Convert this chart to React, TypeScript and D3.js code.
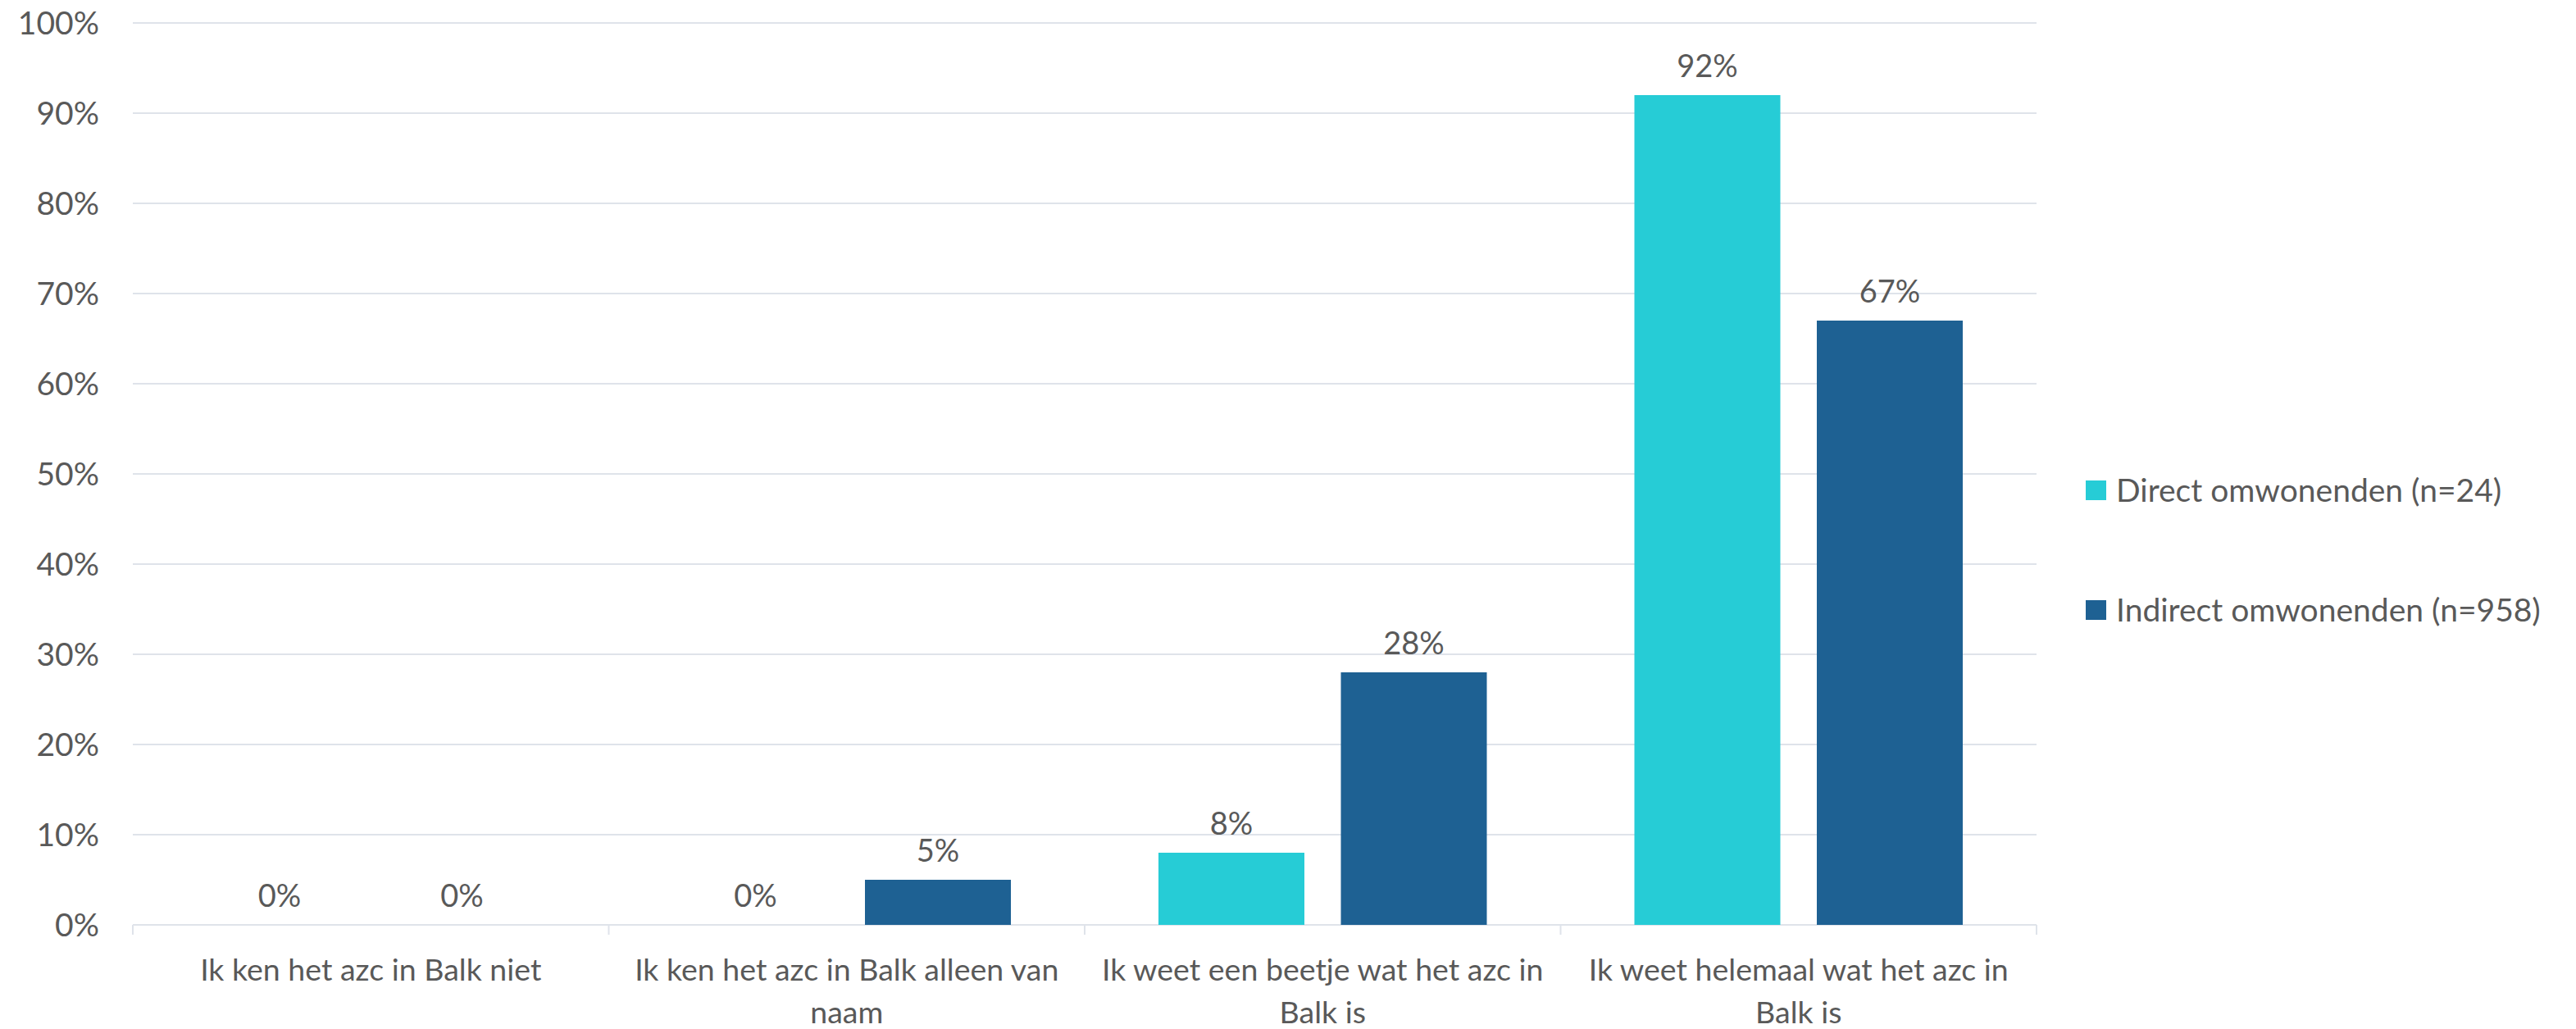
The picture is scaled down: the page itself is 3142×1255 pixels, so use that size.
import React from "react";
import * as d3 from "d3";

const categories = [
  "Ik ken het azc in Balk niet",
  "Ik ken het azc in Balk alleen van naam",
  "Ik weet een beetje wat het azc in Balk is",
  "Ik weet helemaal wat het azc in Balk is",
];
const categoryLines = [
  ["Ik ken het azc in Balk niet"],
  ["Ik ken het azc in Balk alleen van", "naam"],
  ["Ik weet een beetje wat het azc in", "Balk is"],
  ["Ik weet helemaal wat het azc in", "Balk is"],
];
const seriesNames = ["Direct omwonenden (n=24)", "Indirect omwonenden (n=958)"];
const seriesColors = ["#26CCD6", "#1E6193"];
const directValues = [0, 0, 8, 92];
const indirectValues = [0, 5, 28, 67];
const yTicks = [0, 10, 20, 30, 40, 50, 60, 70, 80, 90, 100];

const W = 3142;
const H = 1255;
const left = 162;
const right = 2484;
const top = 28;
const bottom = 1128;
const FONT = "Lato, 'Open Sans', sans-serif";
const TEXT = "#595959";
const GRID = "#DFE3EA";

export default function App() {
  const series = [directValues, indirectValues];
  const x0 = d3.scaleBand<string>().domain(categories).range([left, right]).padding(0);
  const groupPad = 90;
  const x1 = d3
    .scaleBand<number>()
    .domain([0, 1])
    .range([groupPad, x0.bandwidth() - groupPad])
    .paddingInner(0.2)
    .paddingOuter(0);
  const y = d3.scaleLinear().domain([0, 100]).range([bottom, top]);
  const boundaries = [...categories.map((c) => x0(c) as number), right];

  return (
    <svg
      width={W}
      height={H}
      style={{ position: "absolute", left: 0, top: 0, background: "#fff" }}
      fontFamily={FONT}
    >
      {yTicks.map((t) => (
        <g key={t}>
          <line x1={left} x2={right} y1={y(t)} y2={y(t)} stroke={GRID} strokeWidth={2} />
          <text x={121} y={y(t)} dy="0.36em" textAnchor="end" fontSize={39} fill={TEXT}>
            {t}%
          </text>
        </g>
      ))}
      {boundaries.map((bx, i) => (
        <line key={i} x1={bx} x2={bx} y1={bottom} y2={bottom + 12} stroke={GRID} strokeWidth={2} />
      ))}
      {categories.map((c, ci) => (
        <g key={c} transform={`translate(${x0(c)},0)`}>
          {series.map((vals, si) => {
            const v = vals[ci];
            const bx = x1(si) as number;
            return (
              <g key={si}>
                {v > 0 && (
                  <rect
                    x={bx}
                    y={y(v)}
                    width={x1.bandwidth()}
                    height={bottom - y(v)}
                    fill={seriesColors[si]}
                  />
                )}
                <text
                  x={bx + x1.bandwidth() / 2}
                  y={y(v) - 22}
                  textAnchor="middle"
                  fontSize={38}
                  fill={TEXT}
                >
                  {v}%
                </text>
              </g>
            );
          })}
          {categoryLines[ci].map((line, li) => (
            <text
              key={li}
              x={x0.bandwidth() / 2}
              y={1196 + li * 52}
              textAnchor="middle"
              fontSize={37.5}
              fill={TEXT}
            >
              {line}
            </text>
          ))}
        </g>
      ))}
      {seriesNames.map((name, si) => (
        <g key={name} transform={`translate(2544,${598 + si * 146})`}>
          <rect x={0} y={-12} width={25} height={24} fill={seriesColors[si]} />
          <text x={37} y={0} dy="0.36em" fontSize={39} fill={TEXT}>
            {name}
          </text>
        </g>
      ))}
    </svg>
  );
}
